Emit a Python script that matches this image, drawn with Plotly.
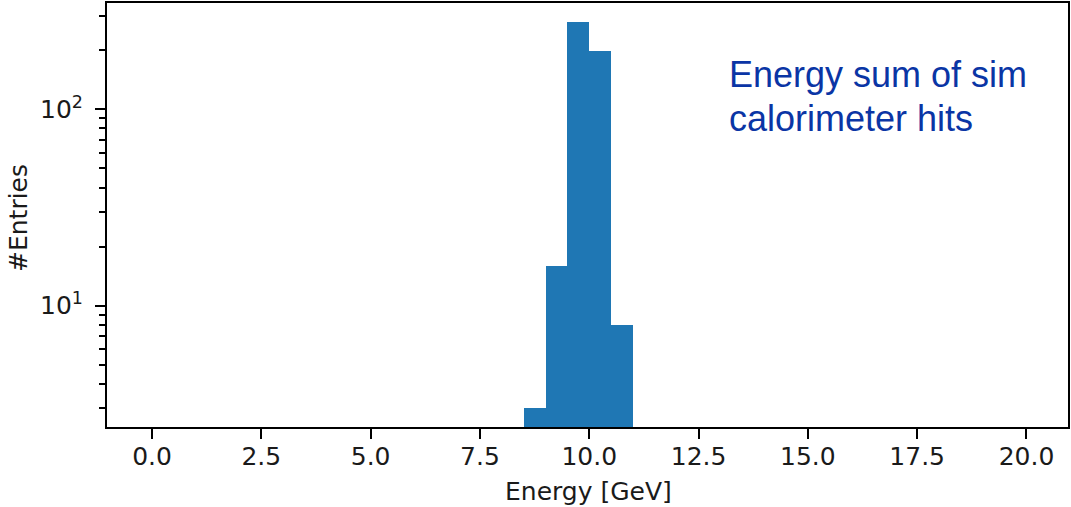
import plotly.graph_objects as go

# Data: histogram bins (width 0.5 GeV) and counts
bin_left_edges = [8.5, 9.0, 9.5, 10.0, 10.5]
bin_width = 0.5
counts = [3, 16, 280, 198, 8]

x_tick_vals = [0.0, 2.5, 5.0, 7.5, 10.0, 12.5, 15.0, 17.5, 20.0]
x_tick_text = ["0.0", "2.5", "5.0", "7.5", "10.0", "12.5", "15.0", "17.5", "20.0"]
y_tick_vals = [10, 100]
y_tick_text = ["10<sup>1</sup>", "10<sup>2</sup>"]
y_minor_vals = [3, 4, 5, 6, 7, 8, 9, 20, 30, 40, 50, 60, 70, 80, 90, 200, 300]

W, H = 1071, 507
ML, MR, MT, MB = 107, 3, 3, 80
PH = H - MT - MB
PW = W - ML - MR


def py(ypx):
    return (H - MB - ypx) / PH


def px(xpx):
    return (xpx - ML) / PW


centers = [e + bin_width / 2 for e in bin_left_edges]

fig = go.Figure()
fig.add_trace(go.Bar(
    x=centers, y=counts, width=[bin_width] * len(counts),
    marker=dict(color="#1f77b4", line=dict(width=0)),
    showlegend=False,
))

FS = 25
font_tick = dict(family="DejaVu Sans", size=FS, color="#1a1a1a")

fig.update_layout(
    width=W, height=H,
    margin=dict(l=ML, r=MR, t=MT, b=MB, autoexpand=False),
    plot_bgcolor="white", paper_bgcolor="white",
    bargap=0,
    xaxis=dict(
        range=[-1.03, 20.95], tickvals=x_tick_vals, ticktext=x_tick_text,
        ticks="outside", ticklen=10, tickwidth=2, tickcolor="black",
        showline=True, linecolor="black", linewidth=2, mirror=True,
        showgrid=False, zeroline=False, tickfont=font_tick,
        ticklabelstandoff=-4,
    ),
    yaxis=dict(
        type="log", range=[0.382, 2.542],
        tickvals=y_tick_vals, ticktext=y_tick_text,
        ticks="outside", ticklen=10, tickwidth=2, tickcolor="black",
        showline=True, linecolor="black", linewidth=2, mirror=True,
        showgrid=False, zeroline=False, tickfont=font_tick,
        ticklabelstandoff=7,
        minor=dict(tickmode="array", tickvals=y_minor_vals, ticks="outside",
                   ticklen=6, tickwidth=1.5, tickcolor="black", showgrid=False),
    ),
    annotations=[
        dict(text="Energy [GeV]", xref="paper", yref="paper",
             x=px(588), y=py(492), xanchor="center", yanchor="middle",
             showarrow=False, font=dict(family="DejaVu Sans", size=FS, color="#1a1a1a")),
        dict(text="#Entries", xref="paper", yref="paper",
             x=px(18), y=py(218), xanchor="center", yanchor="middle", textangle=-90,
             showarrow=False, font=dict(family="DejaVu Sans", size=FS, color="#1a1a1a")),
        dict(text="Energy sum of sim", xref="paper", yref="paper",
             x=px(727), y=py(74), xanchor="left", yanchor="middle",
             showarrow=False, font=dict(family="Liberation Sans", size=36, color="#0a35a5")),
        dict(text="calorimeter hits", xref="paper", yref="paper",
             x=px(727), y=py(118), xanchor="left", yanchor="middle",
             showarrow=False, font=dict(family="Liberation Sans", size=36, color="#0a35a5")),
    ],
)

fig.write_html("out.html", config={"displayModeBar": False},
               post_script="document.body.style.margin='0';document.body.style.overflow='hidden';")
